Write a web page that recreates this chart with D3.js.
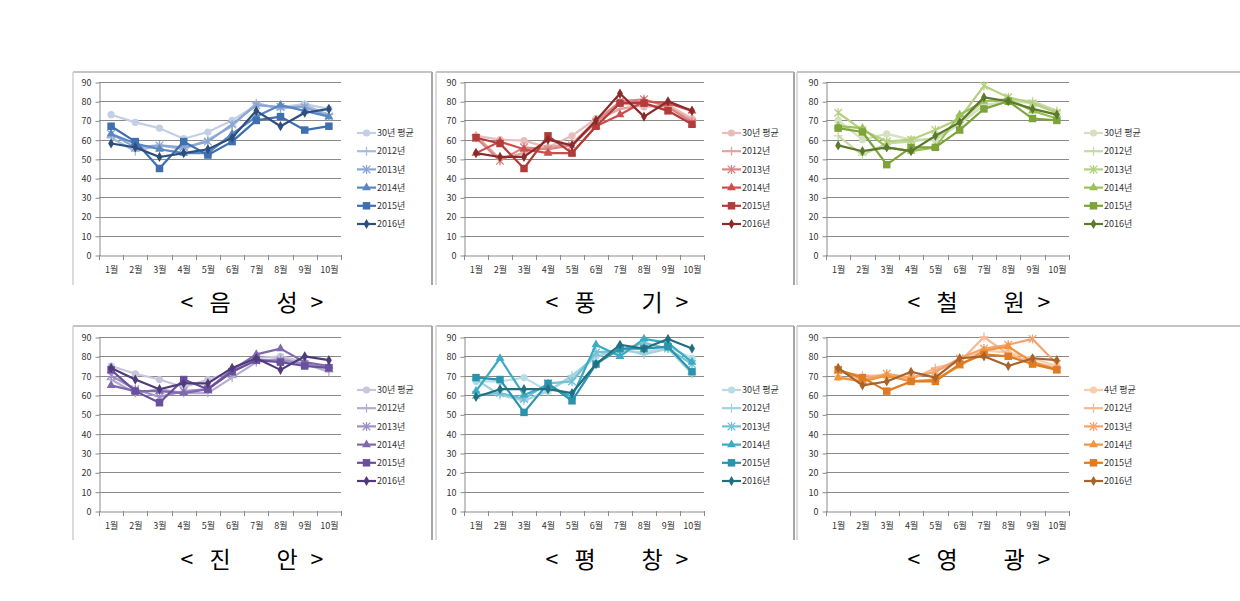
<!DOCTYPE html>
<html>
<head>
<meta charset="utf-8">
<script src="https://cdn.jsdelivr.net/npm/d3@7"></script>
<style>
  body { margin: 0; background: #fff; }
  text { font-family: "Noto Sans CJK KR", "Noto Sans", sans-serif; }
</style>
</head>
<body>
<div id="chartArea"></div>
<script>
// Data
const months = ["1월", "2월", "3월", "4월", "5월", "6월", "7월", "8월", "9월", "10월"];
const yTicks = [0, 10, 20, 30, 40, 50, 60, 70, 80, 90];
const seriesNames = ["30년 평균", "2012년", "2013년", "2014년", "2015년", "2016년"];
const seriesNamesYg = ["4년 평균", "2012년", "2013년", "2014년", "2015년", "2016년"];

// 음성
const eumseong = [
    [73, 69, 66, 60.5, 64, 70, 78, 77, 78.5, 76],
    [61, 54, 57, 55, 60, 67, 79, 76, 78, 73],
    [63, 56, 57, 56, 59, 68, 78, 77, 77, 72],
    [63, 58, 55, 53, 53, 63, 72, 78, 75, 72],
    [67, 59, 45, 59, 52, 59, 70, 72, 65, 67],
    [58, 56, 51, 53, 55, 61, 75, 67, 74, 76]
];
// 풍기
const punggi = [
    [62, 60, 59.5, 56, 62, 71, 79, 77, 78, 71],
    [62, 50, 53, 56, 58, 70, 76, 78, 77, 70],
    [61, 49, 56, 55, 57, 69, 80, 81, 77, 69],
    [53, 59, 55, 53, 53, 67, 73, 80, 79, 75],
    [61, 58, 45, 62, 53, 67, 79, 79, 75, 68],
    [53, 51, 51, 60, 57, 70, 84, 72, 80, 75]
];
// 철원
const cheorwon = [
    [70, 60, 63, 60, 60, 68, 78, 80, 79, 74],
    [62, 52, 58, 59, 61, 69, 80, 81, 80, 75],
    [74, 65, 59, 60, 65, 71, 88, 82, 79, 74],
    [67, 66, 56, 54, 56, 73, 80, 81, 75, 71],
    [66, 64, 47, 56, 56, 65, 76, 80, 71, 70],
    [57, 54, 56, 54, 62, 69, 82, 80, 76, 73]
];
// 진안
const jinan = [
    [75, 71, 68, 64, 68, 72, 79, 80, 77, 74],
    [68, 61, 63, 61, 61, 69, 77, 79, 76, 72],
    [70, 63, 59, 62, 63, 72, 78, 78, 76, 74],
    [65, 62, 62, 61, 63, 73, 81, 84, 77, 75],
    [73, 62, 56, 68, 63, 72, 78, 77, 75, 74],
    [74, 68, 63, 66, 66, 74, 79, 73, 80, 78]
];
// 평창
const pyeongchang = [
    [67, 67, 69, 62, 69, 80, 83, 82, 85, 79],
    [68, 60, 57, 62, 70, 80, 84, 81, 84, 71],
    [60, 61, 58, 66, 67, 82, 83, 87, 84, 76],
    [62, 79, 60, 65, 59, 86, 80, 89, 87, 77],
    [69, 68, 51, 66, 57, 76, 84, 84, 85, 72],
    [59, 63, 63, 63, 61, 76, 86, 84, 89, 84]
];
// 영광
const yeonggwang = [
    [69, 68, 70, 69, 72, 78, 83, 82, 79, 75],
    [72, 70, 70, 68, 74, 77, 90, 81, 77, 74],
    [73, 68, 71, 69, 72, 79, 84, 86, 89, 76],
    [69, 67, 70, 67, 68, 75, 83, 85, 77, 73],
    [73, 69, 62, 67, 67, 76, 81, 80, 76, 73],
    [74, 65, 67, 72, 69, 79, 80, 75, 79, 78]
];

// Palettes
const blues = ["#c3cfe4", "#a8bcdd", "#8aa6d2", "#5a86c2", "#3e6fb0", "#2e4e7e"];
const reds = ["#e9bcba", "#e3a3a1", "#d98585", "#cd4e4c", "#b23c39", "#8a2b2a"];
const greens = ["#d4e0c0", "#c7daa6", "#b4d27e", "#9bc15a", "#7ca43b", "#5b7a2b"];
const purples = ["#c9c5dd", "#b5add1", "#9d90c4", "#8068ae", "#6a4f9c", "#4f3b79"];
const teals = ["#b8dde7", "#a0d4e1", "#72c1d5", "#3aabc4", "#2c93ad", "#22707f"];
const oranges = ["#f9cdaa", "#f8b890", "#f4a36c", "#f0953d", "#df7b22", "#a8622b"];

// Layout
const width = 1240, height = 601;
const cols = [
    { box: [73, 432], plot: [99, 341], leg: 357 },
    { box: [436, 794], plot: [464, 704], leg: 722 },
    { box: [797, null], plot: [826, 1069], leg: 1084 }
];
const rows = [
    { box: [72, 285], plot: [255, 82], leg: 133, title: 311 },
    { box: [326, 540], plot: [511, 337], leg: 390, title: 568 }
];

const panels = [
    { title: ["<", "음", "성", ">"], data: eumseong, colors: blues, names: seriesNames, c: 0, r: 0 },
    { title: ["<", "풍", "기", ">"], data: punggi, colors: reds, names: seriesNames, c: 1, r: 0 },
    { title: ["<", "철", "원", ">"], data: cheorwon, colors: greens, names: seriesNames, c: 2, r: 0 },
    { title: ["<", "진", "안", ">"], data: jinan, colors: purples, names: seriesNames, c: 0, r: 1 },
    { title: ["<", "평", "창", ">"], data: pyeongchang, colors: teals, names: seriesNames, c: 1, r: 1 },
    { title: ["<", "영", "광", ">"], data: yeonggwang, colors: oranges, names: seriesNamesYg, c: 2, r: 1 }
];

// Markers: circle, plus, star, triangle, square, diamond
const drawMarker = (g, i, color, x, y) => {
    if (i === 0) {
        g.append("circle").attr("cx", x).attr("cy", y).attr("r", 3.6).attr("fill", color);
    } else if (i === 1) {
        g.append("path")
            .attr("d", `M${x - 4.5},${y}H${x + 4.5}M${x},${y - 4.5}V${y + 4.5}`)
            .attr("stroke", color).attr("stroke-width", 1.3);
    } else if (i === 2) {
        g.append("path")
            .attr("d", `M${x - 3.8},${y - 3.8}L${x + 3.8},${y + 3.8}M${x - 3.8},${y + 3.8}L${x + 3.8},${y - 3.8}M${x},${y - 4.5}V${y + 4.5}`)
            .attr("stroke", color).attr("stroke-width", 1.3);
    } else {
        const type = [null, null, null, d3.symbolTriangle, d3.symbolSquare, d3.symbolDiamond][i];
        const size = [0, 0, 0, 34, 56, 30][i];
        g.append("path")
            .attr("d", d3.symbol(type, size)())
            .attr("transform", `translate(${x},${y})`)
            .attr("fill", color);
    }
};

const svg = d3.select("#chartArea")
    .append("svg")
    .attr("width", width)
    .attr("height", height);

panels.forEach(p => {
    const col = cols[p.c], row = rows[p.r];
    const g = svg.append("g");

    // frame (top, left, right)
    g.append("line").attr("x1", col.box[0]).attr("x2", col.box[1] || 1240)
        .attr("y1", row.box[0]).attr("y2", row.box[0])
        .attr("stroke", "#c4c4c4").attr("stroke-width", 2);
    g.append("line").attr("x1", col.box[0]).attr("x2", col.box[0])
        .attr("y1", row.box[0]).attr("y2", row.box[1])
        .attr("stroke", "#cfcfcf").attr("stroke-width", 1.5);
    if (col.box[1]) {
        g.append("line").attr("x1", col.box[1]).attr("x2", col.box[1])
            .attr("y1", row.box[0]).attr("y2", row.box[1])
            .attr("stroke", "#a6a6a6").attr("stroke-width", 2);
    }

    const x = d3.scaleBand().domain(months).range(col.plot);
    const y = d3.scaleLinear().domain([0, 90]).range(row.plot);

    // gridlines
    g.append("g").selectAll("line")
        .data(yTicks.slice(1))
        .join("line")
        .attr("x1", col.plot[0]).attr("x2", col.plot[1])
        .attr("y1", d => Math.round(y(d)) + 0.5).attr("y2", d => Math.round(y(d)) + 0.5)
        .attr("stroke", "#8a8a8a").attr("stroke-width", 1);

    // y axis
    const yAxis = g.append("g")
        .attr("transform", `translate(${col.plot[0] + 0.5},0.5)`)
        .call(d3.axisLeft(y).tickValues(yTicks).tickSize(4).tickPadding(4).tickSizeOuter(0));
    yAxis.select(".domain").attr("stroke", "#8a8a8a");
    yAxis.selectAll(".tick line").attr("stroke", "#8a8a8a");
    yAxis.selectAll(".tick text").attr("font-size", 9).attr("fill", "#333")
        .attr("font-family", "'Noto Sans CJK KR', sans-serif");

    // x axis
    const xAxis = g.append("g")
        .attr("transform", `translate(0.5,${Math.round(y(0)) + 0.5})`)
        .call(d3.axisBottom(x).tickSize(0).tickPadding(11));
    xAxis.select(".domain").attr("stroke", "#8a8a8a");
    xAxis.selectAll(".tick text").attr("font-size", 9).attr("fill", "#333")
        .attr("font-family", "'Noto Sans CJK KR', sans-serif");
    // category boundary ticks
    g.append("g").selectAll("line")
        .data(months.concat(["end"]))
        .join("line")
        .attr("x1", d => Math.round(d === "end" ? col.plot[1] : x(d)) + 0.5)
        .attr("x2", d => Math.round(d === "end" ? col.plot[1] : x(d)) + 0.5)
        .attr("y1", Math.round(y(0))).attr("y2", Math.round(y(0)) + 5)
        .attr("stroke", "#8a8a8a");

    // series
    const line = d3.line()
        .x((d, i) => x(months[i]) + x.bandwidth() / 2)
        .y(d => y(d));

    p.data.forEach((vals, si) => {
        const color = p.colors[si];
        const sg = g.append("g");
        sg.append("path")
            .datum(vals)
            .attr("d", line)
            .attr("fill", "none")
            .attr("stroke", color)
            .attr("stroke-width", 2.2)
            .attr("stroke-linejoin", "round");
        vals.forEach((v, i) => drawMarker(sg, si, color, x(months[i]) + x.bandwidth() / 2, y(v)));
    });

    // legend
    const leg = g.append("g");
    p.names.forEach((name, si) => {
        const ly = row.leg + si * 18.2;
        const color = p.colors[si];
        leg.append("line")
            .attr("x1", col.leg).attr("x2", col.leg + 19)
            .attr("y1", ly).attr("y2", ly)
            .attr("stroke", color).attr("stroke-width", 2.2);
        drawMarker(leg, si, color, col.leg + 9.5, ly);
        leg.append("text")
            .attr("x", col.leg + 20).attr("y", ly)
            .attr("dy", "0.35em")
            .attr("font-size", 9).attr("fill", "#333")
            .text(name);
    });

    // title, spaced out like the original
    const cx = col.plot[0] + 153;
    const offsets = [-65, -32, 35, 65];
    g.append("g").selectAll("text")
        .data(p.title)
        .join("text")
        .attr("x", (d, i) => cx + offsets[i])
        .attr("y", row.title)
        .attr("text-anchor", "middle")
        .attr("font-size", 23)
        .attr("font-weight", 400)
        .attr("fill", "#000")
        .text(d => d);
});
</script>
</body>
</html>
